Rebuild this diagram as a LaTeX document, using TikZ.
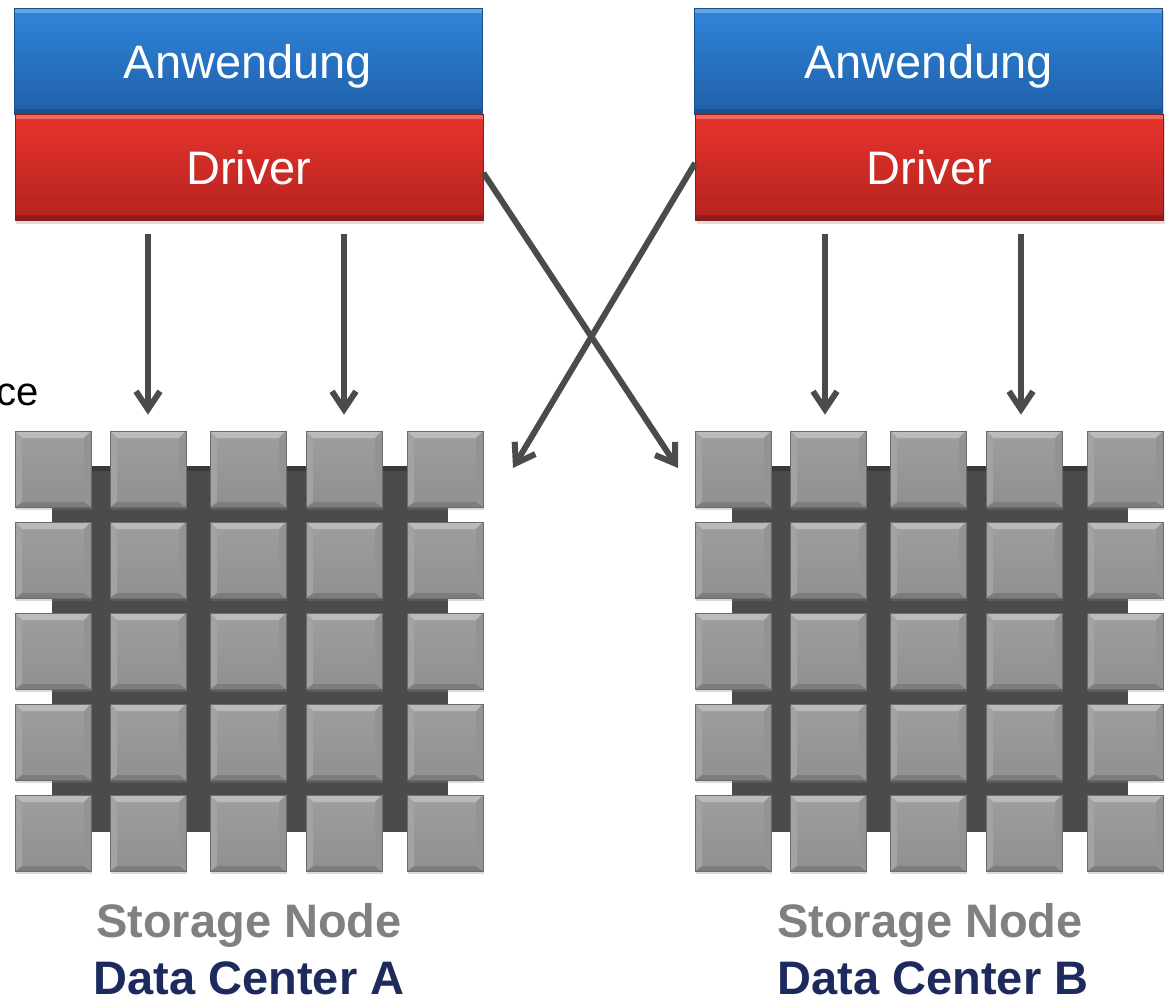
\documentclass[tikz,border=0pt]{standalone}
\usepackage{fontspec}
\setmainfont{Liberation Sans}
\usetikzlibrary{arrows.meta,shadows}
\definecolor{appTop}{HTML}{2F86DA}
\definecolor{appBot}{HTML}{1F5FA8}
\definecolor{appEdge}{HTML}{1A4F8C}
\definecolor{drvTop}{HTML}{E8332C}
\definecolor{drvBot}{HTML}{B42320}
\definecolor{drvEdge}{HTML}{8A1A18}
\definecolor{arrowgray}{HTML}{4A4B4B}
\definecolor{platec}{HTML}{4A4B4B}
\definecolor{plateedge}{HTML}{383939}
\definecolor{sqfaceT}{HTML}{9D9F9F}
\definecolor{sqfaceB}{HTML}{8F9191}
\definecolor{sqtopc}{HTML}{BABCBC}
\definecolor{sqleftc}{HTML}{A2A4A4}
\definecolor{sqrightc}{HTML}{929494}
\definecolor{sqbotc}{HTML}{7C7E7E}
\definecolor{sqedge}{HTML}{6B6D6D}
\definecolor{labelgray}{HTML}{808080}
\definecolor{navy}{HTML}{1C2A5E}
\tikzset{
  layerbox/.style={rectangle, minimum width=468pt, minimum height=106pt, inner sep=0pt,
    text=white, font=\fontsize{47}{56}\selectfont, text height=34pt, text depth=0pt,
    drop shadow={shadow xshift=1pt, shadow yshift=-4pt, opacity=0.25}},
  appbox/.style={layerbox, top color=appTop, bottom color=appBot, draw=appEdge, line width=0.8pt,
    path picture={
      \fill[white,opacity=0.25] (path picture bounding box.north west) rectangle ([yshift=-5pt]path picture bounding box.north east);
      \fill[black,opacity=0.15] (path picture bounding box.south west) rectangle ([yshift=5pt]path picture bounding box.south east);
    }},
  drvbox/.style={layerbox, top color=drvTop, bottom color=drvBot, draw=drvEdge, line width=0.8pt,
    path picture={
      \fill[white,opacity=0.25] (path picture bounding box.north west) rectangle ([yshift=-5pt]path picture bounding box.north east);
      \fill[black,opacity=0.2] (path picture bounding box.south west) rectangle ([yshift=5pt]path picture bounding box.south east);
    }},
  plate/.style={rectangle, minimum width=396pt, minimum height=366pt, inner sep=0pt, fill=platec,
    path picture={
      \fill[plateedge] (path picture bounding box.north west) rectangle ([yshift=-5pt]path picture bounding box.north east);
    }},
  sq/.style={rectangle, minimum size=76pt, inner sep=0pt, top color=sqfaceT, bottom color=sqfaceB,
    draw=sqedge, line width=0.6pt,
    drop shadow={shadow xshift=1pt, shadow yshift=-3pt, opacity=0.3},
    path picture={
      \fill[sqtopc] (path picture bounding box.north west) -- (path picture bounding box.north east)
        -- ([xshift=-7pt,yshift=-7pt]path picture bounding box.north east)
        -- ([xshift=7pt,yshift=-7pt]path picture bounding box.north west) -- cycle;
      \fill[sqbotc] (path picture bounding box.south west) -- (path picture bounding box.south east)
        -- ([xshift=-7pt,yshift=5pt]path picture bounding box.south east)
        -- ([xshift=7pt,yshift=5pt]path picture bounding box.south west) -- cycle;
      \fill[sqleftc] (path picture bounding box.north west) -- ([xshift=7pt,yshift=-7pt]path picture bounding box.north west)
        -- ([xshift=7pt,yshift=5pt]path picture bounding box.south west)
        -- (path picture bounding box.south west) -- cycle;
      \fill[sqrightc] (path picture bounding box.north east) -- ([xshift=-7pt,yshift=-7pt]path picture bounding box.north east)
        -- ([xshift=-7pt,yshift=5pt]path picture bounding box.south east)
        -- (path picture bounding box.south east) -- cycle;
    }},
  arr/.style={draw=arrowgray, line width=6pt, -{Straight Barb[length=18pt,width=24pt]}},
  lbl/.style={anchor=base, inner sep=0pt, font=\fontsize{47}{56}\selectfont\bfseries},
}
\begin{document}
\begin{tikzpicture}[x=1pt, y=-1pt]
\useasboundingbox (0,0) rectangle (1168,1002);
% storage grids
\foreach \g/\dx in {A/0,B/680} {
  \node[plate] (plate\g) at (250+\dx, 649) {};
  \foreach \x [count=\c] in {15,110,210,306,407} {
    \foreach \y [count=\r] in {431,522,613,704,795} {
      \node[sq] (\g-\r-\c) at (\x+38+\dx, \y+38) {};
    }
  }
}
% application stacks
\node[appbox] (appA) at (248,61) {Anwendung};
\node[drvbox] (drvA) at (249,167) {Driver};
\node[appbox] (appB) at (928.5,61) {Anwendung};
\node[drvbox] (drvB) at (929.5,167) {Driver};
% cut-off label
\node[anchor=base east, inner sep=0pt, font=\fontsize{40}{48}\selectfont] (ce) at (39,405) {ce};
% free arrow ends
\coordinate (tipA) at (513,468);
\coordinate (tipB) at (678,468);
% vertical arrows
\foreach \g/\s in {A/0,B/-3} {
  \foreach \c in {2,4} {
    \draw[arr, shorten <=14pt, shorten >=16pt] ([xshift=\s pt]drv\g.south -| \g-1-\c.north) -- ([xshift=\s pt]\g-1-\c.north);
  }
}
% crossing arrows
\draw[arr] ([yshift=-6pt]drvA.east) -- (tipB);
\draw[arr] ([yshift=4pt]drvB.west) -- (tipA);
% labels
\node[lbl, text=labelgray] (snA) at (249,937) {Storage Node};
\node[lbl, text=navy] (dcA) at (249,994) {Data Center A};
\node[lbl, text=labelgray] (snB) at (930,937) {Storage Node};
\node[lbl, text=navy] (dcB) at (933,994) {Data Center B};
\end{tikzpicture}
\end{document}
